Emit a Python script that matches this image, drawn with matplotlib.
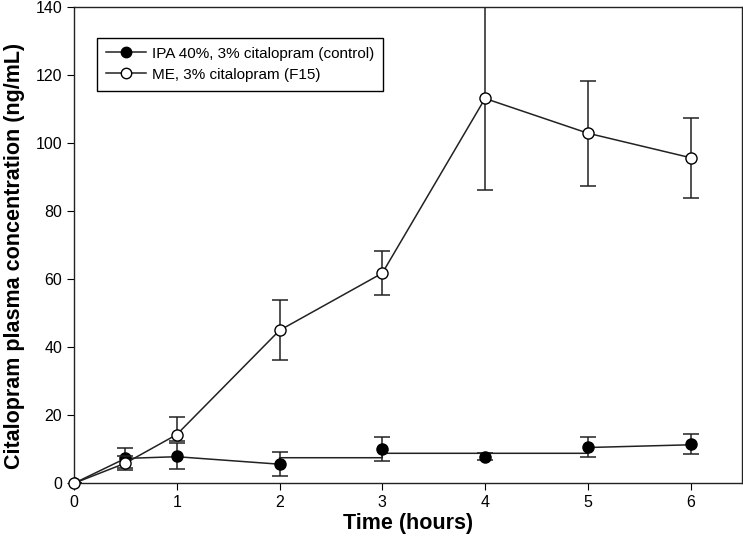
import numpy as np
import matplotlib
matplotlib.use("Agg")
import matplotlib.pyplot as plt
from matplotlib.lines import Line2D

plt.rcParams['font.family'] = ['Liberation Sans', 'DejaVu Sans']

# time points (hours)
time = [0, 0.5, 1, 2, 3, 4, 5, 6]

# IPA 40%, 3% citalopram (control)
ctrl_mean = [0, 7.5, 8.0, 5.6, 10.0, 7.8, 10.7, 11.5]
ctrl_err = [0, 3.0, 3.7, 3.5, 3.6, 1.0, 2.9, 3.0]
# connecting line of the control series as drawn in the source figure
ctrl_line_x = [0, 0.5, 1, 2, 2, 3, 3, 4, 5, 5, 6]
ctrl_line_y = [0, 7.3, 7.8, 5.6, 7.5, 7.5, 8.8, 8.8, 8.8, 10.5, 11.3]

# ME, 3% citalopram (F15)
me_mean = [0, 5.9, 14.3, 44.9, 61.7, 113.0, 102.8, 95.6]
me_err_lo = [0, 2.0, 2.0, 8.8, 6.4, 27.0, 15.4, 11.8]
me_err_hi = [0, 2.0, 5.2, 8.8, 6.4, 27.0, 15.4, 11.8]

fig = plt.figure(figsize=(7.43, 5.43), dpi=100)
ax = fig.add_axes([0.0996, 0.110, 0.899, 0.878])

lc = '#222222'
ax.plot(ctrl_line_x, ctrl_line_y, color=lc, lw=1.1, zorder=2)
ax.errorbar(time, ctrl_mean, yerr=ctrl_err, fmt='o', color=lc, mfc='black',
            mec='black', ms=8, capsize=5.5, elinewidth=1.1, capthick=1.1, zorder=3)
eb = ax.errorbar(time, me_mean, yerr=[me_err_lo, me_err_hi], fmt='-o', color=lc,
                 mfc='white', mec='black', ms=8, lw=1.1, capsize=5.5,
                 elinewidth=1.1, capthick=1.1, zorder=4)
eb[0].set_clip_on(False)

ax.set_xlim(0, 6.5)
ax.set_ylim(0, 140)
ax.set_xticks([0, 1, 2, 3, 4, 5, 6])
ax.set_yticks(np.arange(0, 141, 20))
ax.tick_params(direction='out', length=5, labelsize=11.5, top=False, right=False)
for s in ax.spines.values():
    s.set_linewidth(1.0)
    s.set_color(lc)

ax.set_xlabel('Time (hours)', fontsize=15.5, fontweight='bold', labelpad=2)
ax.set_ylabel('Citalopram plasma concentration (ng/mL)', fontsize=15.5,
              fontweight='bold')
ax.yaxis.set_label_coords(-0.074, 0.476)

handles = [
    Line2D([], [], color=lc, lw=1.1, marker='o', mfc='black', mec='black', ms=7.5),
    Line2D([], [], color=lc, lw=1.1, marker='o', mfc='white', mec='black', ms=7.5),
]
leg = ax.legend(handles, ['IPA 40%, 3% citalopram (control)', 'ME, 3% citalopram (F15)'],
                loc='upper left', bbox_to_anchor=(0.034, 0.935), fontsize=11,
                frameon=True, fancybox=False, edgecolor='black', framealpha=1,
                handlelength=2.6, handletextpad=0.4, borderpad=0.6,
                labelspacing=0.45, borderaxespad=0)
leg.get_frame().set_linewidth(1.0)

fig.savefig('out.png', dpi=100)
